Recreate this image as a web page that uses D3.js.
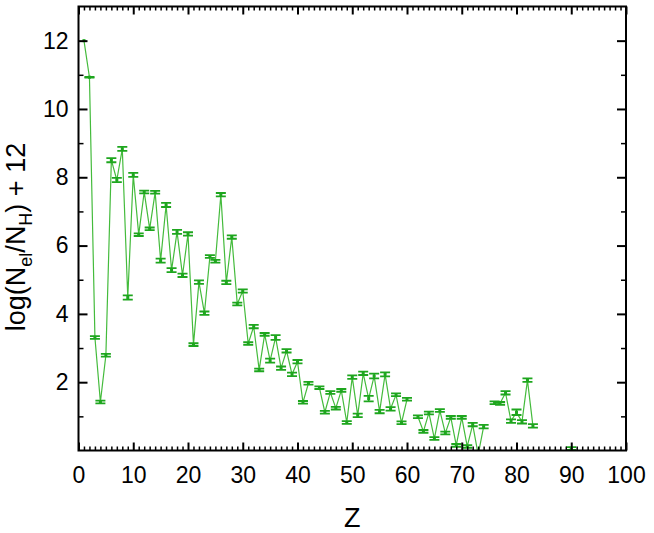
<!DOCTYPE html>
<html>
<head>
<meta charset="utf-8">
<script src="https://cdn.jsdelivr.net/npm/d3@7"></script>
<style>
  body { margin: 0; background: #fff; }
  text { font-family: "Liberation Sans", Arial, sans-serif; fill: #000; }
</style>
</head>
<body>
<div id="chart"></div>
<script>
// atomic number (null value = element not shown, breaks the line)
var zList = [1, 2, 3, 4, 5, 6, 7, 8, 9, 10,
  11, 12, 13, 14, 15, 16, 17, 18, 19, 20,
  21, 22, 23, 24, 25, 26, 27, 28, 29, 30,
  31, 32, 33, 34, 35, 36, 37, 38, 39, 40,
  41, 42, 43, 44, 45, 46, 47, 48, 49, 50,
  51, 52, 53, 54, 55, 56, 57, 58, 59, 60,
  61, 62, 63, 64, 65, 66, 67, 68, 69, 70,
  71, 72, 73, 74, 75, 76, 77, 78, 79, 80,
  81, 82, 83, 84, 85, 86, 87, 88, 89, 90];

// log(N_el/N_H) + 12
var abundance = [12.00, 10.93, 3.31, 1.42, 2.79, 8.50, 7.92, 8.83, 4.48, 8.07,
  6.32, 7.57, 6.49, 7.56, 5.56, 7.19, 5.28, 6.40, 5.13, 6.34,
  3.10, 4.93, 4.02, 5.68, 5.54, 7.49, 4.92, 6.25, 4.29, 4.67,
  3.13, 3.63, 2.36, 3.40, 2.63, 3.31, 2.41, 2.92, 2.23, 2.60,
  1.41, 1.97, null, 1.84, 1.12, 1.70, 1.24, 1.76, 0.82, 2.15,
  1.03, 2.26, 1.52, 2.18, 1.14, 2.23, 1.22, 1.63, 0.81, 1.50,
  null, 0.99, 0.56, 1.10, 0.35, 1.17, 0.51, 0.97, 0.15, 0.97,
  0.12, 0.76, -0.12, 0.70, null, 1.40, 1.38, 1.69, 0.86, 1.12,
  0.84, 2.06, 0.72, null, null, null, null, null, null, 0.06];

// error bar half-widths
var errors = [0, 0.01, 0.04, 0.04, 0.04, 0.06, 0.06, 0.06, 0.06, 0.06,
  0.04, 0.04, 0.04, 0.04, 0.06, 0.06, 0.06, 0.06, 0.05, 0.05,
  0.04, 0.05, 0.05, 0.04, 0.04, 0.05, 0.05, 0.05, 0.04, 0.05,
  0.04, 0.05, 0.04, 0.04, 0.06, 0.07, 0.05, 0.05, 0.05, 0.05,
  0.04, 0.04, 0, 0.04, 0.04, 0.04, 0.04, 0.04, 0.04, 0.05,
  0.05, 0.05, 0.08, 0.07, 0.05, 0.06, 0.05, 0.04, 0.04, 0.04,
  0, 0.04, 0.04, 0.04, 0.04, 0.04, 0.04, 0.04, 0.04, 0.04,
  0.04, 0.05, 0.04, 0.05, 0, 0.04, 0.04, 0.05, 0.05, 0.08,
  0.05, 0.05, 0.05, 0, 0, 0, 0, 0, 0, 0.04];

var xMajor = [0, 10, 20, 30, 40, 50, 60, 70, 80, 90, 100];
var yMajor = [2, 4, 6, 8, 10, 12];

var data = zList.map(function(z, i) {
  return {z: z, v: abundance[i], e: errors[i]};
});

var W = 654, H = 533;
var margin = {top: 6.5, right: 28, bottom: 82.5, left: 78.5},
    width = W - margin.left - margin.right,
    height = H - margin.top - margin.bottom;

var svg = d3.select("#chart").append("svg")
    .attr("width", W)
    .attr("height", H);

var g = svg.append("g")
    .attr("transform", "translate(" + margin.left + "," + margin.top + ")");

var x = d3.scaleLinear().domain([0, 100]).range([0, width]);
var y = d3.scaleLinear().domain([0, 13]).range([height, 0]);

var green = "#1ea61e";

g.append("clipPath").attr("id", "clip")
  .append("rect").attr("width", width).attr("height", height);

// connecting line
var line = d3.line()
  .defined(function(d) { return d.v !== null; })
  .x(function(d) { return x(d.z); })
  .y(function(d) { return y(d.v); });

var plot = g.append("g").attr("clip-path", "url(#clip)");

plot.append("path")
  .datum(data)
  .attr("fill", "none")
  .attr("stroke", "#44bb3c")
  .attr("stroke-width", 1.2)
  .attr("d", line);

// error bars + markers
var pts = plot.selectAll(".pt")
  .data(data.filter(function(d) { return d.v !== null; }))
  .enter().append("g").attr("class", "pt");

pts.filter(function(d) { return d.e > 0; }).each(function(d) {
  var s = d3.select(this), cx = x(d.z);
  var y1 = y(d.v + d.e), y2 = y(d.v - d.e);
  s.append("line").attr("x1", cx).attr("x2", cx).attr("y1", y1).attr("y2", y2)
    .attr("stroke", green).attr("stroke-width", 1.6);
  [y1, y2].forEach(function(yy) {
    s.append("line").attr("x1", cx - 5).attr("x2", cx + 5).attr("y1", yy).attr("y2", yy)
      .attr("stroke", green).attr("stroke-width", 1.8);
  });
});

pts.append("rect")
  .attr("x", function(d) { return x(d.z) - 1.5; })
  .attr("y", function(d) { return y(d.v) - 1.5; })
  .attr("width", 3).attr("height", 3)
  .attr("fill", green);

// axes (ticks point inward)
function styleAxis(sel, w) {
  sel.select(".domain").remove();
  sel.selectAll(".tick line").attr("stroke", "#000").attr("stroke-width", w);
  sel.selectAll("text").style("font-size", "23px");
}

var minorX = d3.range(0, 101, 1).filter(function(v) { return v % 10 !== 0; });
var minorY = [1, 3, 5, 7, 9, 11];

g.append("g").attr("transform", "translate(0," + height + ")")
  .call(d3.axisBottom(x).tickValues(xMajor).tickSize(-8).tickPadding(16).tickFormat(d3.format("d")))
  .call(styleAxis, 2);
g.append("g").attr("transform", "translate(0," + height + ")")
  .call(d3.axisBottom(x).tickValues(minorX).tickSize(-4).tickFormat(""))
  .call(styleAxis, 1.5);
g.append("g")
  .call(d3.axisTop(x).tickValues(xMajor).tickSize(-8).tickFormat(""))
  .call(styleAxis, 2);
g.append("g")
  .call(d3.axisTop(x).tickValues(minorX).tickSize(-4).tickFormat(""))
  .call(styleAxis, 1.5);

g.append("g")
  .call(d3.axisLeft(y).tickValues(yMajor).tickSize(-9).tickPadding(10).tickFormat(d3.format("d")))
  .call(styleAxis, 2);
g.append("g")
  .call(d3.axisLeft(y).tickValues(minorY).tickSize(-5).tickFormat(""))
  .call(styleAxis, 1.5);
g.append("g").attr("transform", "translate(" + width + ",0)")
  .call(d3.axisRight(y).tickValues(yMajor).tickSize(-9).tickFormat(""))
  .call(styleAxis, 2);
g.append("g").attr("transform", "translate(" + width + ",0)")
  .call(d3.axisRight(y).tickValues(minorY).tickSize(-5).tickFormat(""))
  .call(styleAxis, 1.5);

// frame
g.append("rect")
  .attr("width", width).attr("height", height)
  .attr("fill", "none").attr("stroke", "#000").attr("stroke-width", 2);

// axis titles
svg.append("text")
  .attr("x", margin.left + width / 2)
  .attr("y", 527)
  .attr("text-anchor", "middle")
  .style("font-size", "27px")
  .text("Z");

var yt = svg.append("text")
  .attr("transform", "translate(25,237) rotate(-90)")
  .attr("text-anchor", "middle")
  .style("font-size", "27px");
yt.append("tspan").text("log(N");
yt.append("tspan").attr("dy", 7).style("font-size", "18px").text("el");
yt.append("tspan").attr("dy", -7).text("/N");
yt.append("tspan").attr("dy", 7).style("font-size", "18px").text("H");
yt.append("tspan").attr("dy", -7).text(") + 12");
</script>
</body>
</html>
